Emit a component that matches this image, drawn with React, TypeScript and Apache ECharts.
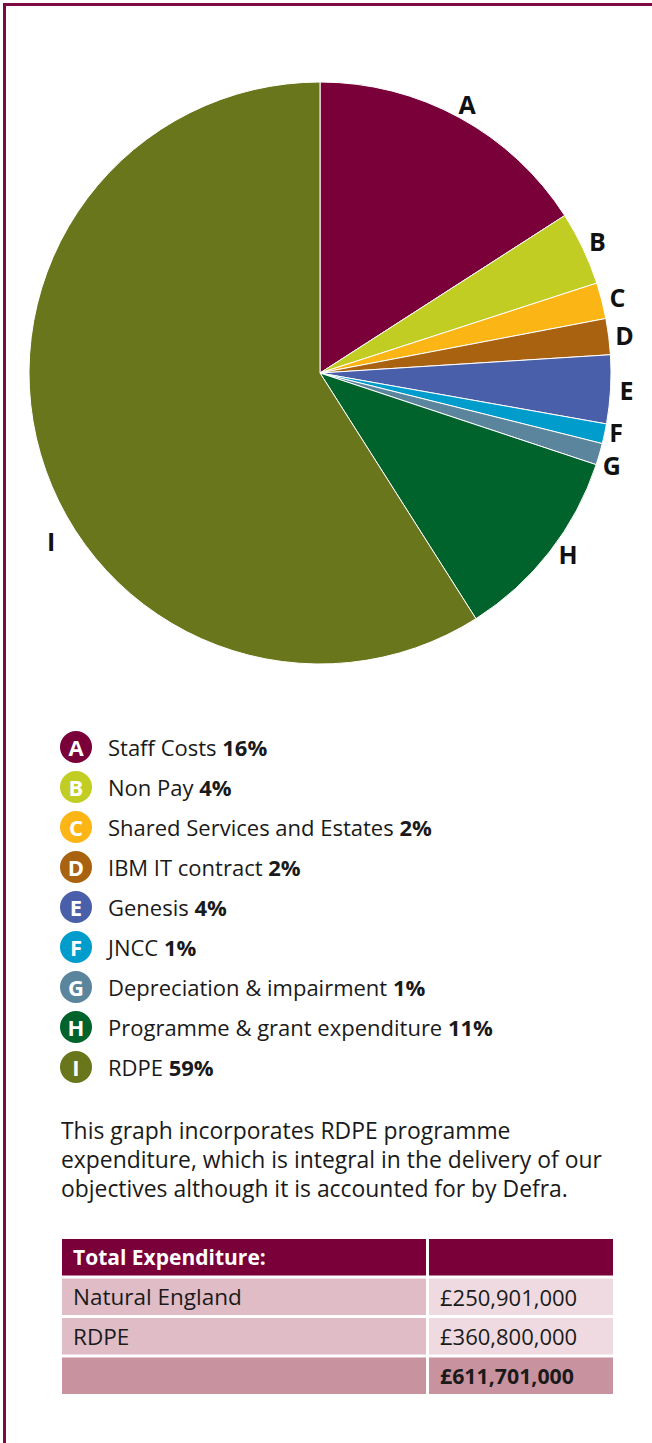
import React, { useEffect, useRef } from "react";
import * as echarts from "echarts";

const letters = ["A", "B", "C", "D", "E", "F", "G", "H", "I"];
const categories = [
  "Staff Costs",
  "Non Pay",
  "Shared Services and Estates",
  "IBM IT contract",
  "Genesis",
  "JNCC",
  "Depreciation & impairment",
  "Programme & grant expenditure",
  "RDPE",
];
const shares = [15.9, 4.1, 2.0, 2.0, 3.8, 1.1, 1.2, 10.9, 59.0];
const percentLabels = [16, 4, 2, 2, 4, 1, 1, 11, 59];
const colors = [
  "#7a0039",
  "#c2cd23",
  "#fbb616",
  "#a9620f",
  "#4a5fa9",
  "#009ccb",
  "#5b849d",
  "#00632b",
  "#6a761c",
];
const noteLines = [
  "This graph incorporates RDPE programme",
  "expenditure, which is integral in the delivery of our",
  "objectives although it is accounted for by Defra.",
];
const tableHeader = "Total Expenditure:";
const tableRows = ["Natural England", "RDPE"];
const tableAmounts = ["£250,901,000", "£360,800,000"];
const tableTotal = "£611,701,000";

const FONT = "'Open Sans', 'Noto Sans', sans-serif";

// small nudges of the slice letters, as in the reference
const labelOffsets: Record<number, number[]> = {
  5: [-4, -5],
  6: [-3, 6],
  7: [6, -8],
  8: [26, 82],
};

export default function App() {
  const ref = useRef<HTMLDivElement>(null);
  useEffect(() => {
    if (!ref.current) return;
    const chart = echarts.init(ref.current, null, { renderer: "svg" });

    const rich: Record<string, any> = {
      gap: { width: 16 },
      p: { fontWeight: "bold", fontSize: 22, fontFamily: FONT, color: "#1a1a1a" },
    };
    colors.forEach((c, i) => {
      rich["b" + i] = {
        backgroundColor: c,
        borderRadius: 16,
        width: 32,
        height: 32,
        lineHeight: 32,
        align: "center",
        color: "#fff",
        fontWeight: "bold",
        fontSize: 22,
        fontFamily: FONT,
      };
    });

    const tableEls: any[] = [];
    const tx0 = 62, colSplit = 426, tx1 = 429, txEnd = 613;
    const top0 = 1239, pitch = 39.5, rh = 36.5;
    const rowsSpec = [
      { l: tableHeader, r: "", lf: "#7a0039", rf: "#7a0039", lc: "#fff", bold: true, rbold: false },
      { l: tableRows[0], r: tableAmounts[0], lf: "#dfbcc6", rf: "#eedae0", lc: "#1a1a1a", bold: false, rbold: false },
      { l: tableRows[1], r: tableAmounts[1], lf: "#dfbcc6", rf: "#eedae0", lc: "#1a1a1a", bold: false, rbold: false },
      { l: "", r: tableTotal, lf: "#c9929f", rf: "#c9929f", lc: "#1a1a1a", bold: false, rbold: true },
    ];
    rowsSpec.forEach((r, i) => {
      const y = top0 + i * pitch;
      tableEls.push({
        type: "rect",
        shape: { x: tx0, y, width: colSplit - tx0, height: rh },
        style: { fill: r.lf },
      });
      tableEls.push({
        type: "rect",
        shape: { x: tx1, y, width: txEnd - tx1, height: rh },
        style: { fill: r.rf },
      });
      if (r.l)
        tableEls.push({
          type: "text",
          x: 73,
          y: y + rh / 2,
          style: {
            text: r.l,
            fill: r.lc,
            fontSize: r.bold ? 21 : 22.5,
            fontWeight: r.bold ? "bold" : "normal",
            fontFamily: FONT,
            verticalAlign: "middle",
          },
        });
      if (r.r)
        tableEls.push({
          type: "text",
          x: 440,
          y: y + rh / 2,
          style: {
            text: r.r,
            fill: "#1a1a1a",
            fontSize: r.rbold ? 21.3 : 22,
            fontWeight: r.rbold ? "bold" : "normal",
            fontFamily: FONT,
            verticalAlign: "middle",
          },
        });
    });

    chart.setOption({
      animation: false,
      backgroundColor: "#ffffff",
      legend: {
        orient: "vertical",
        left: 50,
        top: 726,
        itemGap: 8,
        icon: "none",
        itemWidth: 0,
        itemHeight: 0,
        selectedMode: false,
        data: categories,
        textStyle: { fontSize: 22, color: "#1a1a1a", fontFamily: FONT, rich },
        formatter: (name: string) => {
          const i = categories.indexOf(name);
          return `{b${i}|${letters[i]}}{gap|}${name} {p|${percentLabels[i]}%}`;
        },
      },
      graphic: [
        {
          type: "rect",
          shape: { x: 4.5, y: 4.5, width: 900, height: 1700 },
          style: { fill: "none", stroke: "#7d0a40", lineWidth: 3 },
          silent: true,
        },
        {
          type: "text",
          x: 61,
          y: 1116,
          style: {
            text: noteLines.join("\n"),
            fontSize: 22.9,
            lineHeight: 29,
            fill: "#1a1a1a",
            fontFamily: FONT,
          },
        },
        ...tableEls,
      ],
      series: [
        {
          type: "pie",
          center: [320, 373],
          radius: [0, 291],
          startAngle: 90,
          clockwise: true,
          avoidLabelOverlap: false,
          label: { show: false },
          labelLine: { show: false },
          itemStyle: { borderColor: "#ffffff", borderWidth: 1 },
          emphasis: { disabled: true },
          data: categories.map((n, i) => ({
            name: n,
            value: shares[i],
            itemStyle: { color: colors[i] },
          })),
        },
        {
          type: "pie",
          center: [320, 373],
          radius: [289, 319],
          startAngle: 90,
          clockwise: true,
          silent: true,
          avoidLabelOverlap: false,
          labelLayout: { hideOverlap: false },
          labelLine: { show: false },
          itemStyle: { color: "rgba(0,0,0,0)" },
          emphasis: { disabled: true },
          label: {
            show: true,
            position: "inside",
            formatter: "{b}",
            fontSize: 25,
            lineHeight: 26,
            fontWeight: "bold",
            color: "#111111",
            fontFamily: FONT,
          },
          data: letters.map((l, i) => ({
            name: l,
            value: shares[i],
            label: labelOffsets[i] ? { offset: labelOffsets[i] } : undefined,
          })),
        },
      ],
    });
    return () => chart.dispose();
  }, []);
  return (
    <div
      ref={ref}
      style={{ position: "absolute", left: 0, top: 0, width: 652, height: 1443 }}
    />
  );
}
